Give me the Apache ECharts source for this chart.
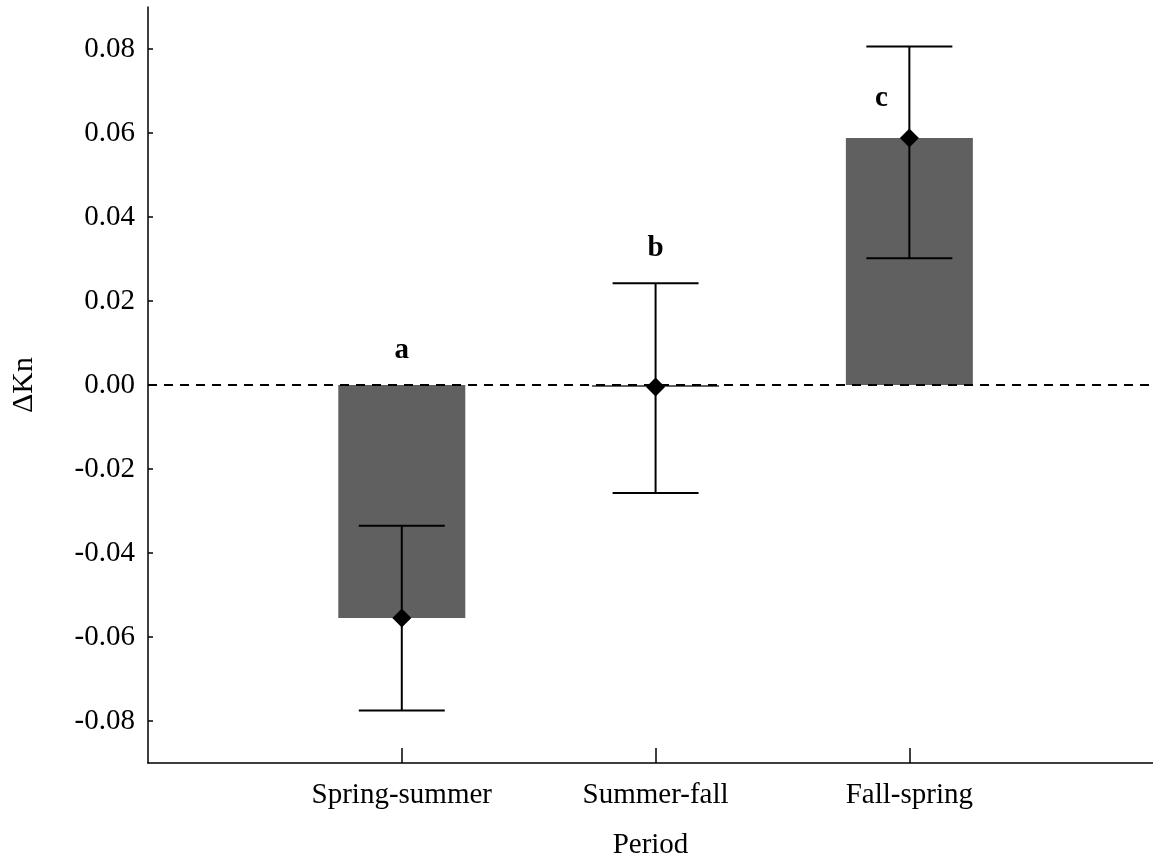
<!DOCTYPE html>
<html>
<head>
<meta charset="utf-8">
<script src="https://cdn.jsdelivr.net/npm/echarts@6/dist/echarts.min.js"></script>
<style>html,body{margin:0;padding:0;background:#fff}#c{width:1153px;height:856px}</style>
</head>
<body>
<div id="c"></div>
<script>
var categories = ['Spring-summer', 'Summer-fall', 'Fall-spring'];
var catPos = [1, 2, 3];
var means = [-0.0555, -0.0005, 0.0588];
var upper = [-0.0335, 0.0242, 0.0806];
var lower = [-0.0775, -0.0257, 0.0302];
var letters = ['a', 'b', 'c'];
var letterX = [1, 2, 2.89];
var letterY = [0.0083, 0.0326, 0.0683];
var yTicks = [-0.08, -0.06, -0.04, -0.02, 0.00, 0.02, 0.04, 0.06, 0.08];

var font = '"Liberation Serif", "Times New Roman", serif';
var chart = echarts.init(document.getElementById('c'));

var barData = catPos.map(function (x, i) { return [x, means[i]]; });
var errData = catPos.map(function (x, i) { return [x, lower[i], upper[i]]; });
var meanData = catPos.map(function (x, i) { return [x, means[i]]; });
var letterData = letterX.map(function (x, i) { return [x, letterY[i], letters[i]]; });

chart.setOption({
  animation: false,
  grid: { left: 148, right: 0, top: 7, bottom: 93, containLabel: false, outerBoundsMode: 'none' },
  xAxis: {
    type: 'value', min: 0, max: 3.96,
    name: 'Period', nameLocation: 'middle', nameGap: 68,
    nameTextStyle: { fontFamily: font, fontSize: 29, color: '#000' },
    axisLine: { show: true, onZero: false, lineStyle: { color: '#000', width: 1.5 } },
    axisTick: { show: true, inside: true, length: 15, customValues: catPos, lineStyle: { color: '#000', width: 1.5 } },
    axisLabel: {
      customValues: catPos, margin: 18,
      fontFamily: font, fontSize: 29, color: '#000',
      formatter: function (v) { var i = catPos.indexOf(Math.round(v)); return i >= 0 ? categories[i] : ''; }
    },
    splitLine: { show: false }
  },
  yAxis: {
    type: 'value', min: -0.09, max: 0.09, interval: 0.01,
    name: 'ΔKn', nameLocation: 'middle', nameGap: 109, nameRotate: 90,
    nameTextStyle: { fontFamily: font, fontSize: 30, color: '#000' },
    axisLine: { show: true, onZero: false, lineStyle: { color: '#000', width: 1.5 } },
    axisTick: { show: true, inside: true, length: 5, customValues: yTicks, lineStyle: { color: '#000', width: 1.5 } },
    axisLabel: {
      customValues: yTicks, margin: 13,
      fontFamily: font, fontSize: 29, color: '#000',
      formatter: function (v) { return v.toFixed(2); }
    },
    splitLine: { show: false }
  },
  series: [
    {
      type: 'bar', data: barData, barWidth: 127,
      itemStyle: { color: '#606060' },
      markLine: {
        silent: true, symbol: 'none', label: { show: false },
        lineStyle: { color: '#000', type: [9, 7], width: 2 },
        data: [{ yAxis: 0 }]
      },
      z: 1
    },
    {
      type: 'custom', data: errData, z: 3,
      renderItem: function (params, api) {
        var x = api.value(0);
        var pLo = api.coord([x, api.value(1)]);
        var pHi = api.coord([x, api.value(2)]);
        var hw = 43;
        var st = { stroke: '#000', lineWidth: 2 };
        return {
          type: 'group',
          children: [
            { type: 'line', shape: { x1: pLo[0], y1: pLo[1], x2: pHi[0], y2: pHi[1] }, style: st },
            { type: 'line', shape: { x1: pLo[0] - hw, y1: pLo[1], x2: pLo[0] + hw, y2: pLo[1] }, style: st },
            { type: 'line', shape: { x1: pHi[0] - hw, y1: pHi[1], x2: pHi[0] + hw, y2: pHi[1] }, style: st }
          ]
        };
      }
    },
    {
      type: 'scatter', data: meanData, symbol: 'diamond', symbolSize: [19, 19],
      itemStyle: { color: '#000', opacity: 1 }, z: 4
    },
    {
      type: 'custom', data: letterData, z: 5,
      renderItem: function (params, api) {
        var p = api.coord([api.value(0), api.value(1)]);
        return {
          type: 'text',
          style: {
            x: p[0], y: p[1], text: letters[params.dataIndex],
            fontFamily: font, fontSize: 29, fontWeight: 'bold', fill: '#000',
            align: 'center', verticalAlign: 'middle'
          }
        };
      }
    }
  ]
});
</script>
</body>
</html>
